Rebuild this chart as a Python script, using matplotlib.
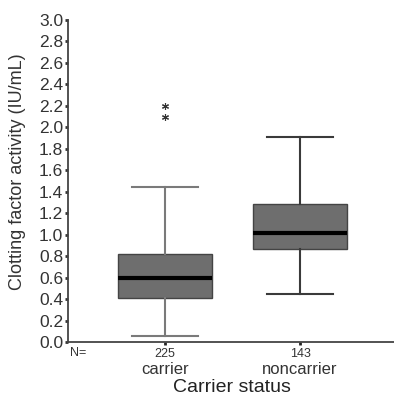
import matplotlib
matplotlib.use("Agg")
import matplotlib.pyplot as plt
from matplotlib.transforms import blended_transform_factory

categories = ["carrier", "noncarrier"]
counts = [225, 143]
whislo = [0.056, 0.45]
q1 = [0.41, 0.87]
med = [0.60, 1.02]
q3 = [0.82, 1.29]
whishi = [1.44, 1.91]
outliers = [[2.10, 2.20], []]
yticks = [round(0.2 * i, 1) for i in range(16)]

plt.rcParams['font.family'] = ['Liberation Sans', 'DejaVu Sans']
fig = plt.figure(figsize=(3.94, 3.97), dpi=100)
ax = fig.add_axes([68/394, 1-342/397, 326/394, 322/397])

stats = []
for i in range(2):
    stats.append(dict(med=med[i], q1=q1[i], q3=q3[i], whislo=whislo[i],
                      whishi=whishi[i], fliers=[], label=categories[i]))
positions = [1, 2]
bp = ax.bxp(stats, positions=positions, widths=0.70, patch_artist=True,
            showfliers=False, capwidths=0.49)
line_colors = ["#7a7a7a", "#3a3a3a"]
for i, b in enumerate(bp['boxes']):
    b.set_facecolor("#6e6e6e")
    b.set_edgecolor("#444444")
    b.set_linewidth(1.0)
for i in range(2):
    for w in bp['whiskers'][2*i:2*i+2]:
        w.set_color(line_colors[i]); w.set_linewidth(1.5)
    for c in bp['caps'][2*i:2*i+2]:
        c.set_color(line_colors[i]); c.set_linewidth(1.5)
for m in bp['medians']:
    m.set_color("black"); m.set_linewidth(3)

for i, o in enumerate(outliers):
    if o:
        ax.plot([positions[i]] * len(o), o, linestyle='none', marker=(6, 2, 0),
                markersize=5, color="#333333", markeredgewidth=0.8)

ax.set_xlim(1 - 97/135, 2 + 94/135)
ax.set_ylim(0, 3.0)
ax.set_yticks(yticks)
ax.set_yticklabels([f"{v:.1f}" for v in yticks], fontsize=12.5, color="#333333")
ax.tick_params(axis='y', length=2.5, width=2, pad=1, colors="#333333", labelcolor="#333333")
ax.set_xticks(positions)
ax.set_xticklabels([str(c) for c in counts], fontsize=9, color="#333333")
ax.tick_params(axis='x', length=2.5, width=2, pad=2, colors="#222222", labelcolor="#333333")
for s in ['top', 'right']:
    ax.spines[s].set_visible(False)
for s in ['left', 'bottom']:
    ax.spines[s].set_color("#444444")
    ax.spines[s].set_linewidth(1.3)

trans = blended_transform_factory(ax.transData, ax.transAxes)
for i, c in enumerate(categories):
    ax.text(positions[i], -28/322, c, transform=trans, ha='center', va='center',
            fontsize=12, color="#333333")
fig.text(78/394, 1-353/397, "N=", ha='center', va='center',
         fontsize=9, color="#333333")
fig.text(232/394, 1-388/397, "Carrier status", ha='center', va='center', fontsize=14, color="#222222")
fig.text(18/394, 1-172/397, "Clotting factor activity (IU/mL)", rotation=90,
         ha='center', va='center', fontsize=13, color="#333333")

fig.savefig("out.png", dpi=100, facecolor="white")
